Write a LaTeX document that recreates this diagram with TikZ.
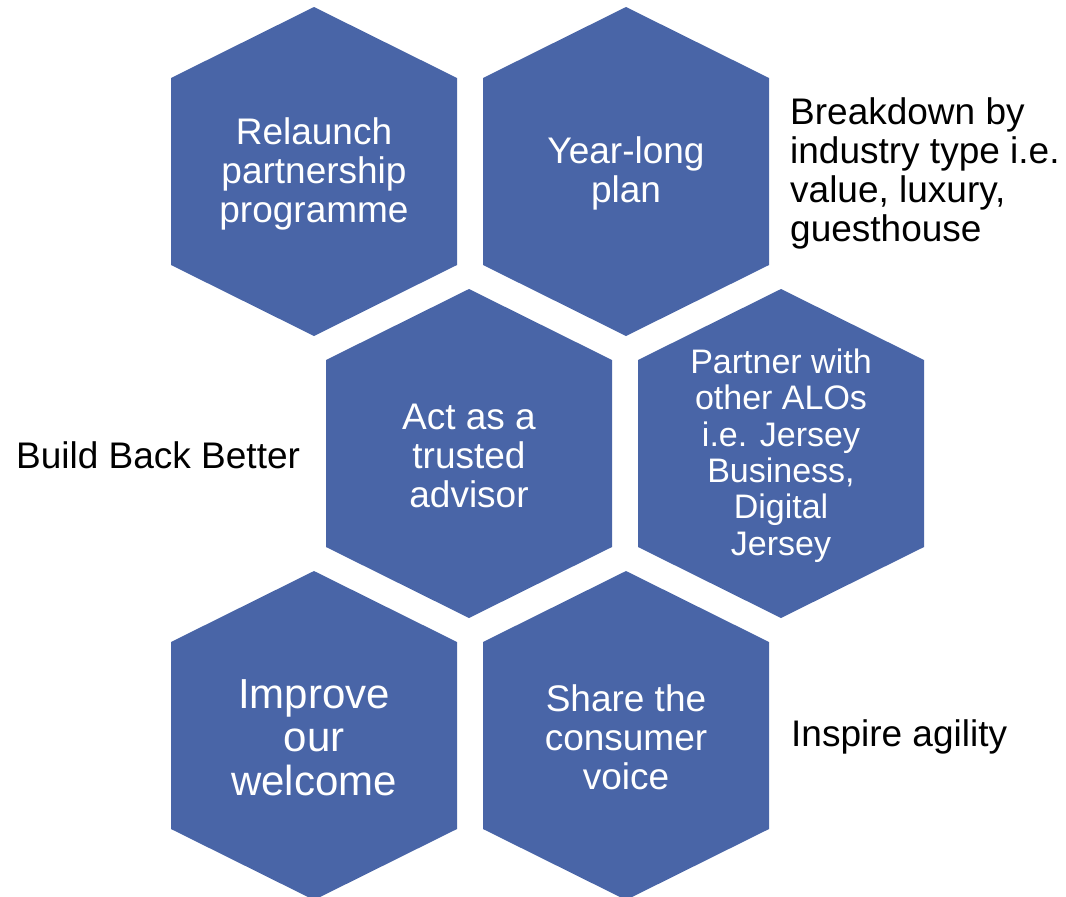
\documentclass[tikz,border=0pt]{standalone}
\usepackage{fontspec}
\setmainfont{Liberation Sans}
\definecolor{hexblue}{RGB}{73,101,167}
\tikzset{
  hexagon/.pic={
    \fill[hexblue] (0,-164.5) -- (143,-93.5) -- (143,93.5) -- (0,164.5)
      -- (-143,93.5) -- (-143,-93.5) -- cycle;
  },
  hextext/.style={text=white, align=center, inner sep=0pt, yshift=-2pt,
    font=\fontsize{37}{39}\selectfont},
  bigtext/.style={hextext, font=\fontsize{42}{43.5}\selectfont},
  smalltext/.style={hextext, font=\fontsize{34}{36.3}\selectfont},
  sidenote/.style={text=black, align=left, inner sep=0pt, yshift=-2pt,
    font=\fontsize{37}{38.8}\selectfont}
}
\begin{document}
\begin{tikzpicture}[x=1pt,y=-1pt]
  \useasboundingbox (0,0) rectangle (1066,897);
  \clip (0,0) rectangle (1066,897);

  % honeycomb of six cells
  \pic at (314,171.5) {hexagon};
  \pic at (626,171.5) {hexagon};
  \pic at (469,453.5) {hexagon};
  \pic at (781,453.5) {hexagon};
  \pic at (314,735.5) {hexagon};
  \pic at (626,735.5) {hexagon};

  % cell labels
  \node[hextext] (relaunch) at (314,171.5) {Relaunch\\partnership\\programme};
  \node[hextext] (yearplan) at (626,171.5) {Year-long\\plan};
  \node[hextext] (advisor) at (469,453.5) {Act as a\\trusted\\advisor};
  \node[smalltext] (partner) at (781,453.5) {Partner with\\other ALOs\\i.e. Jersey\\Business,\\Digital\\Jersey};
  \node[bigtext] (welcome) at (314,735.5) {Improve\\our\\welcome};
  \node[hextext] (consumer) at (626,735.5) {Share the\\consumer\\voice};

  % notes beside the cells
  \node[sidenote, anchor=west] (breakdown) at (790,171.5) {Breakdown by\\industry type i.e.\\value, luxury,\\guesthouse};
  \node[sidenote, anchor=west] (buildback) at (16,453.5) {Build Back Better};
  \node[sidenote, anchor=west] (agility) at (791,735) {Inspire agility};
\end{tikzpicture}
\end{document}
